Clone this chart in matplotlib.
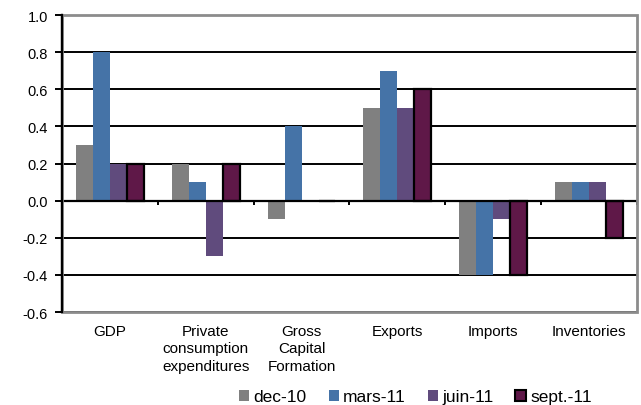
import numpy as np
import matplotlib
matplotlib.use("Agg")
import matplotlib.pyplot as plt
from matplotlib.patches import Patch, Rectangle

plt.rcParams['font.family'] = ['Liberation Sans', 'DejaVu Sans']

categories = ["GDP", "Private\nconsumption\nexpenditures", "Gross\nCapital\nFormation",
              "Exports", "Imports", "Inventories"]
series = ["dec-10", "mars-11", "juin-11", "sept.-11"]
dec10 = [0.3, 0.2, -0.1, 0.5, -0.4, 0.1]
mars11 = [0.8, 0.1, 0.4, 0.7, -0.4, 0.1]
juin11 = [0.2, -0.3, 0.0, 0.5, -0.1, 0.1]
sept11 = [0.2, 0.2, 0.0, 0.6, -0.4, -0.2]
yticks = [1.0, 0.8, 0.6, 0.4, 0.2, 0.0, -0.2, -0.4, -0.6]

colors = ["#808080", "#4573a7", "#604b7d", "#5f1848"]
edges = [None, None, None, "black"]
values = [dec10, mars11, juin11, sept11]

fig = plt.figure(figsize=(6.41, 4.06), dpi=100)
ax = fig.add_axes([0.0967, 0.229, 0.897, 0.7315])

x = np.arange(len(categories))
w = 0.177
for j, (vals, c, ec) in enumerate(zip(values, colors, edges)):
    ax.bar(x + (j - 1.5) * w, vals, width=w, color=c,
           edgecolor=ec if ec else c, linewidth=1.6 if ec else 0, zorder=3)

ax.set_xlim(-0.5, len(categories) - 0.5)
ax.set_ylim(-0.6, 1.0)
ax.set_yticks(yticks)
ax.set_yticklabels([f"{v:.1f}" for v in yticks], fontsize=10.5)
ax.yaxis.grid(True, color="black", linewidth=1.4)
ax.set_axisbelow(True)
ax.tick_params(axis="y", direction="out", length=5, width=1.4, pad=5)

# category axis crosses at zero, with ticks between the groups
ax.spines["bottom"].set_position(("data", 0))
ax.spines["bottom"].set_linewidth(1.6)
ax.spines["bottom"].set_zorder(4)
ax.set_xticks(np.arange(len(categories) + 1) - 0.5)
ax.set_xticklabels([])
ax.tick_params(axis="x", direction="out", length=3, width=1.4)
ax.spines["left"].set_linewidth(1.6)
for s in ["top", "right"]:
    ax.spines[s].set_visible(False)

# grey plot-area border
ax.add_patch(Rectangle((0, 0), 1, 1, transform=ax.transAxes, fill=False,
                       edgecolor="#8c8c8c", linewidth=2, zorder=5, clip_on=False))
ax.plot([0, 0], [0, 1], transform=ax.transAxes, color="black", lw=1.6,
        zorder=6, clip_on=False)

for i, lab in enumerate(categories):
    ax.text(i, -0.04, lab, transform=ax.get_xaxis_transform(), ha="center",
            va="top", fontsize=11, linespacing=1.3, multialignment="center")

handles = [Patch(facecolor=c, edgecolor=ec if ec else c, linewidth=1.5 if ec else 0)
           for c, ec in zip(colors, edges)]
fig.legend(handles, series, loc="center", bbox_to_anchor=(0.648, 0.02), ncol=4,
           frameon=False, fontsize=12.5, handlelength=0.6, handleheight=0.6,
           handletextpad=0.25, columnspacing=1.25, borderpad=0)

fig.savefig("out.png", dpi=100)
